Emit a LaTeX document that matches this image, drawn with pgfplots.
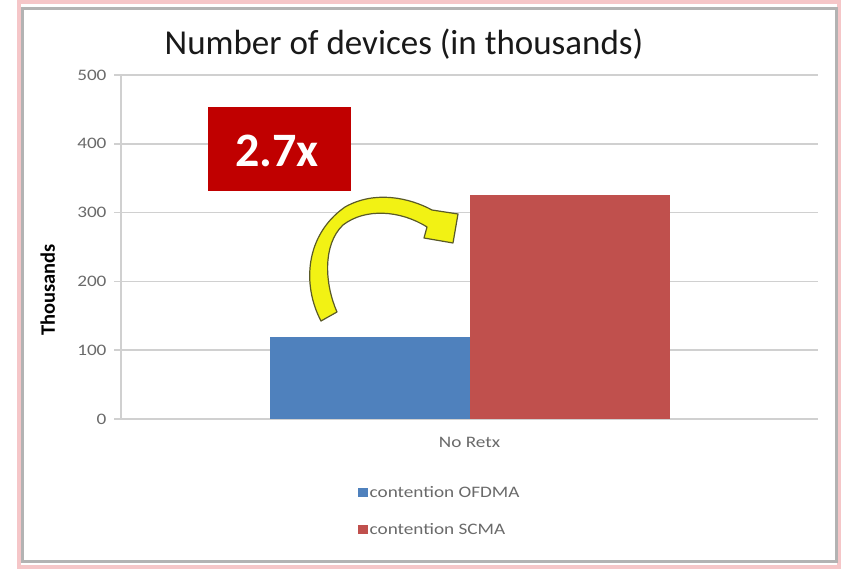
\documentclass[border=0pt]{standalone}
\usepackage{fontspec}
\setmainfont{Carlito}
\newfontfamily\widefont[FakeStretch=1.2]{Carlito}
\usepackage{pgfplots}
\pgfplotsset{compat=1.18}
\definecolor{barblue}{HTML}{4F81BD}
\definecolor{barred}{HTML}{C0504D}
\definecolor{boxred}{HTML}{C00000}
\definecolor{gridgray}{HTML}{D0D0D0}
\definecolor{ticktext}{HTML}{6A6A6A}
\definecolor{framepink}{HTML}{F5C6C8}
\definecolor{framegray}{HTML}{B3B3B3}
\definecolor{arrowfill}{HTML}{F2F214}
\definecolor{arrowline}{HTML}{5A5A28}
\begin{document}
\begin{tikzpicture}[x=1pt,y=1pt]
\useasboundingbox (0,0) rectangle (841,573);
\fill[white] (0,0) rectangle (841,573);
\begin{scope}[y=-1pt, shift={(0pt,573pt)}]
\draw[framepink, line width=4pt] (19,2) rectangle (839,567);
\draw[framegray, line width=3pt] (22,8.5) rectangle (836,561.5);
\end{scope}
\begin{axis}[
  at={(121pt,154pt)}, anchor=south west,
  scale only axis, width=697pt, height=344pt,
  xmin=-0.5, xmax=0.5, ymin=0, ymax=500,
  ytick={0,100,200,300,400,500},
  xtick={0}, xticklabels={No Retx},
  extra x ticks={-0.5,0.5}, extra x tick labels={},
  extra x tick style={major tick length=7pt, tick style={gridgray, line width=1.5pt}},
  axis x line*=bottom, axis y line*=left,
  axis line style={gridgray, line width=1.5pt, -},
  tick align=outside,
  major tick length=7pt,
  ytick style={gridgray, line width=1.5pt},
  xtick style={draw=none},
  ymajorgrids, grid style={gridgray, line width=1.5pt},
  /pgf/number format/assume math mode=true,
  yticklabel style={font=\widefont\fontsize{16}{16}\selectfont, text=ticktext, xshift=-4pt},
  xticklabel style={font=\widefont\fontsize{16}{16}\selectfont, text=ticktext, yshift=-8pt},
  ylabel={Thousands},
  ylabel style={at={(axis description cs:-0.105,0.375)}, anchor=center, rotate=0, font=\fontsize{20.5}{20.5}\selectfont\bfseries, text=black},
  title={Number of devices (in thousands)},
  title style={at={(axis description cs:0.406,1.073)}, anchor=center, font=\fontsize{35}{35}\selectfont, text=black!90},
  ybar=0pt, bar width=200pt,
  legend style={at={(axis description cs:0.3357,-0.183)}, anchor=north west, draw=none, fill=none,
    font=\widefont\fontsize{16}{16}\selectfont, text=ticktext, row sep=21pt, cells={anchor=west}},
  legend image code/.code={\fill[#1, draw=none] (0pt,-4.5pt) rectangle (9.5pt,4.5pt);},
]
\addplot[fill=barblue, draw=none] coordinates {(0,119)};
\addplot[fill=barred, draw=none] coordinates {(0,325)};
\legend{contention OFDMA, contention SCMA}
\end{axis}
\begin{scope}[y=-1pt, shift={(0pt,573pt)}]
\fill[boxred] (208,107) rectangle (351,191);
\node[text=white, font=\fontsize{48}{48}\selectfont\bfseries] at (277,151) {2.7x};
\draw[fill=arrowfill, draw=arrowline, line width=1.2pt, line join=round]
  (321,321) .. controls (302,285) and (305,235) .. (345,207)
  .. controls (375,190) and (410,198) .. (432,210)
  -- (458,214) -- (453,243) -- (424,238) -- (427,227)
  .. controls (400,210) and (365,208) .. (343,225)
  .. controls (322,245) and (325,285) .. (337,312) -- cycle;
\end{scope}
\end{tikzpicture}
\end{document}
